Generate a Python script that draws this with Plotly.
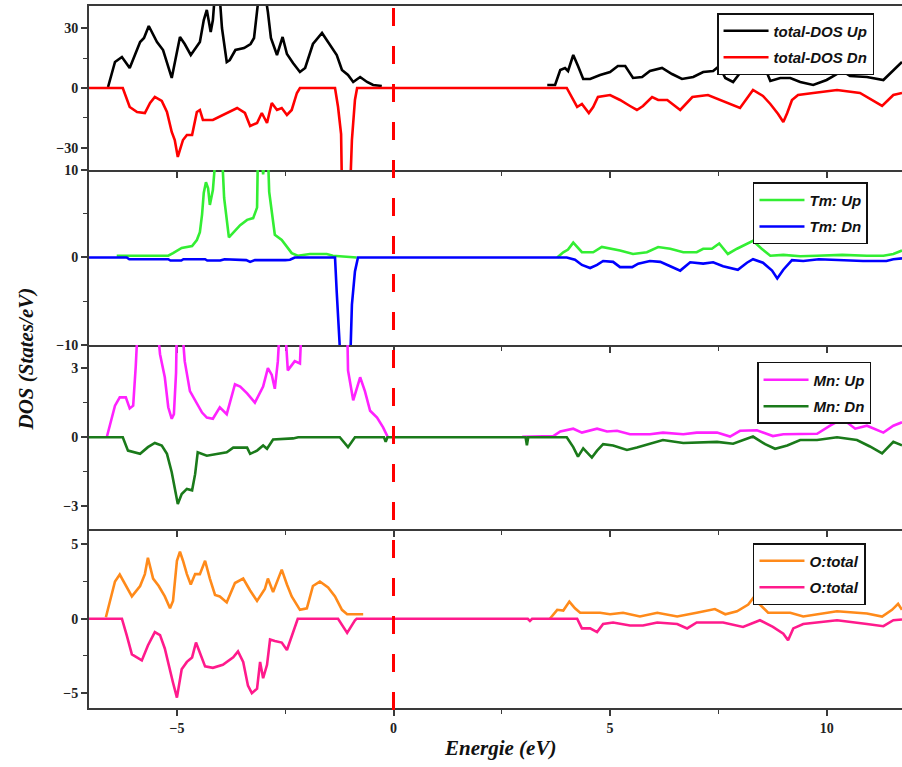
import plotly.graph_objects as go
from plotly.subplots import make_subplots

# ---------------- data (energy eV, DOS states/eV); None = gap ----------------
TOTAL_UP = [(-6.59,0.5),(-6.43,13),(-6.27,15.5),(-6.09,10),(-5.85,23),(-5.76,25),(-5.65,31),(-5.46,23),
            (-5.32,19),(-5.12,5),(-4.93,25.5),(-4.82,22),(-4.68,16.5),(-4.47,23),(-4.38,34),(-4.31,39),
            (-4.22,28),(-4.17,34),(-4.12,48),(-4.02,48),(-3.96,30),(-3.85,13),(-3.78,14),(-3.65,19),
            (-3.45,20),(-3.3,22),(-3.22,25),(-3.15,40),(-3.1,48),(-2.97,48),(-2.9,38),(-2.83,25),
            (-2.69,16.5),(-2.56,25.5),(-2.46,17),(-2.32,12.5),(-2.16,8),(-2.04,10),(-1.86,22),(-1.65,27.5),
            (-1.47,22),(-1.31,16.5),(-1.19,9),(-1.05,6.5),(-0.93,3),(-0.77,5.5),(-0.61,3),(-0.47,1.5),
            (-0.27,1),(None,None),
            (3.55,1.5),(3.73,1.5),(3.85,9),(3.96,10),(4.03,8.5),(4.15,16.5),(4.26,11),(4.38,4.5),(4.54,4.5),
            (4.77,6.5),(5.0,8),(5.18,11),(5.35,11),(5.53,5),(5.74,5.5),(5.92,8.5),(6.2,10),(6.43,7),
            (6.66,4.5),(6.92,5.5),(7.15,8),(7.38,8.5),(7.52,11),(7.66,5),(7.84,3),(8.0,7.5),(8.19,9),
            (8.3,12),(8.5,14),(8.7,3.5),(8.93,5),(9.16,5),(9.39,3),(9.69,1.5),(10.0,4),(10.36,8.5),
            (10.54,6),(10.93,5.5),(11.31,4),(11.54,9),(11.74,13)]
TOTAL_DN = [(-7.03,0),(-6.25,0),(-6.09,-9.5),(-5.92,-12),(-5.74,-12.5),(-5.62,-7.5),(-5.51,-4.5),(-5.35,-6.5),
            (-5.23,-12),(-5.12,-22),(-5.05,-26),(-4.98,-34.5),(-4.86,-26),(-4.77,-23.5),(-4.65,-23.5),
            (-4.54,-12),(-4.47,-11),(-4.4,-16),(-4.17,-16),(-3.94,-13.5),(-3.61,-10),(-3.43,-12.5),
            (-3.31,-19),(-3.15,-17.5),(-3.04,-12.5),(-2.92,-17.5),(-2.81,-7.5),(-2.69,-11),(-2.58,-10),
            (-2.46,-13.5),(-2.35,-11),(-2.23,-2.5),(-2.16,0),(-1.35,0),(-1.28,-9.5),(-1.21,-23),(-1.19,-50),
            (-1.0,-50),(-0.96,-26),(-0.89,-6),(-0.84,0),(4.0,0),(4.12,-5),(4.24,-9.5),(4.35,-8),(4.42,-10),
            (4.51,-12.5),(4.61,-9.5),(4.72,-4.5),(5.0,-3.5),(5.23,-6),(5.46,-9),(5.62,-11),(5.76,-9),
            (5.97,-4.5),(6.11,-6),(6.32,-6),(6.62,-11),(6.9,-4.5),(7.26,-3.5),(7.54,-6),(7.77,-8),(8.0,-10),
            (8.3,-1),(8.53,-4),(8.7,-8),(8.88,-13),(9.0,-17),(9.09,-12.5),(9.2,-6),(9.34,-3.5),(9.69,-2.5),
            (10.24,-1),(10.77,-2.5),(11.07,-6.5),(11.28,-9),(11.54,-3.5),(11.74,-2.5)]

TM_UP = [(-6.39,0.2),(-5.2,0.2),(-5.09,0.5),(-4.89,1.1),(-4.65,1.3),(-4.54,2.0),(-4.47,2.9),(-4.42,4.9),
         (-4.38,7.4),(-4.33,8.6),(-4.28,7.9),(-4.24,6.0),(-4.17,7.7),(-4.1,12),(-3.96,12),(-3.91,6.8),
         (-3.8,2.3),(-3.7,2.8),(-3.54,3.7),(-3.38,4.3),(-3.24,4.5),(-3.15,5.7),(-3.13,12),(-3.05,12),
         (-3.01,9.5),(-2.95,12),(-2.9,12),(-2.87,7.5),(-2.81,5.2),(-2.74,2.6),(-2.58,2.0),(-2.46,1.2),
         (-2.35,0.5),(-2.21,0.2),(-1.93,0.4),(-1.54,0.4),(-1.4,0.2),(-0.85,0.0),(None,None),
         (3.78,0),(3.92,0.6),(4.03,0.9),(4.15,1.7),(4.35,0.6),(4.61,0.6),(4.81,1.2),(5.05,1.0),(5.23,0.8),
         (5.53,0.4),(5.85,0.6),(6.11,1.2),(6.39,1.0),(6.69,0.6),(7.0,0.6),(7.15,1.0),(7.35,1.0),(7.52,1.6),
         (7.72,0.4),(7.93,1.0),(8.12,1.5),(8.3,1.9),(8.5,1.0),(8.7,0.2),(9.0,0.3),(9.39,0.15),(9.77,0.2),
         (10.36,0.3),(10.93,0.2),(11.31,0.2),(11.54,0.4),(11.74,0.8)]
TM_DN = [(-7.03,0),(-6.16,0),(-6.1,-0.2),(-5.2,-0.2),(-5.15,-0.35),(-4.9,-0.35),(-4.85,-0.2),(-4.35,-0.2),
         (-4.3,-0.35),(-4.0,-0.35),(-3.9,-0.2),(-3.4,-0.3),(-3.31,-0.5),(-3.2,-0.3),(-2.5,-0.3),
         (-2.39,-0.25),(-2.28,0),(-1.35,0),(-1.31,-4),(-1.24,-10),(-1.22,-12),(-1.0,-12),(-0.96,-5.4),
         (-0.89,-1.6),(-0.82,0),(4.0,0),(4.19,-0.26),(4.35,-0.85),(4.54,-1.2),(4.7,-0.85),(4.84,-0.4),
         (5.07,-0.5),(5.23,-1.1),(5.51,-1.1),(5.65,-0.7),(5.92,-0.4),(6.16,-0.5),(6.39,-1.0),(6.62,-1.5),
         (6.85,-0.55),(7.15,-0.7),(7.38,-0.55),(7.61,-1.0),(7.95,-1.4),(8.16,-0.6),(8.3,-0.2),(8.53,-0.6),
         (8.74,-1.5),(8.86,-2.4),(9.0,-1.4),(9.2,-0.3),(9.46,-0.4),(9.82,-0.2),(10.84,-0.4),(11.38,-0.4),
         (11.54,-0.2),(11.74,-0.1)]

MN_UP = [(-6.62,0),(-6.5,0.85),(-6.43,1.37),(-6.32,1.73),(-6.18,1.73),(-6.09,1.25),(-6.01,1.37),(-5.95,3.1),
         (-5.9,5),(-5.46,5),(-5.39,3.6),(-5.28,2.6),(-5.2,1.3),(-5.12,0.8),(-5.07,1.0),(-5.02,2.8),(-5.0,5),
         (-4.89,5),(-4.82,3.3),(-4.7,2.0),(-4.54,1.5),(-4.42,1.07),(-4.31,0.85),(-4.17,0.8),(-4.01,1.3),
         (-3.85,1.0),(-3.66,2.3),(-3.54,2.2),(-3.38,1.9),(-3.2,1.5),(-3.01,2.2),(-2.9,3.0),(-2.81,2.7),
         (-2.74,2.1),(-2.67,3.3),(-2.62,5),(-2.51,5),(-2.44,2.9),(-2.28,3.3),(-2.16,3.2),(-2.12,5),
         (-1.07,5),(-1.05,2.9),(-0.93,1.6),(-0.77,2.6),(-0.66,2.0),(-0.54,1.15),(-0.38,0.85),(-0.24,0.43),
         (-0.13,0),(None,None),
         (2.97,0.02),(3.69,0.05),(3.85,0.25),(4.15,0.37),(4.35,0.2),(4.7,0.37),(4.93,0.25),(5.16,0.28),
         (5.46,0.13),(5.92,0.13),(6.22,0.2),(6.69,0.13),(7.0,0.2),(7.47,0.2),(7.77,0.03),(8.0,0.28),
         (8.39,0.3),(8.76,0.05),(9.0,0.13),(9.78,0.15),(10.08,0.5),(10.36,0.8),(10.66,0.37),(10.93,0.5),
         (11.31,0.2),(11.54,0.5),(11.74,0.65)]
MN_DN = [(-7.03,0),(-6.25,0),(-6.13,-0.58),(-5.85,-0.72),(-5.67,-0.43),(-5.51,-0.25),(-5.35,-0.36),
         (-5.23,-0.72),(-5.12,-1.52),(-5.05,-2.17),(-4.98,-2.9),(-4.89,-2.46),(-4.77,-2.24),(-4.65,-2.3),
         (-4.58,-1.6),(-4.52,-0.65),(-4.31,-0.8),(-3.85,-0.65),(-3.7,-0.45),(-3.38,-0.45),(-3.31,-0.72),
         (-3.15,-0.58),(-3.01,-0.36),(-2.92,-0.5),(-2.78,-0.1),(-2.32,-0.05),(-2.2,0),(-1.24,0),
         (-1.05,-0.43),(-0.89,0),(-0.22,0),(-0.18,-0.2),(-0.14,0),(3.05,0),(3.08,-0.35),(3.11,0),(4.0,0),
         (4.15,-0.43),(4.26,-0.84),(4.38,-0.48),(4.58,-0.88),(4.7,-0.58),(4.84,-0.3),(5.07,-0.36),
         (5.39,-0.55),(5.62,-0.45),(5.92,-0.3),(6.22,-0.12),(6.69,-0.25),(7.47,-0.2),(7.84,-0.28),
         (8.3,0.03),(8.58,-0.3),(8.81,-0.5),(9.09,-0.36),(9.39,-0.12),(9.78,-0.12),(10.24,0.0),
         (10.7,-0.12),(11.0,-0.4),(11.28,-0.7),(11.54,-0.2),(11.74,-0.35)]

O_UP = [(-6.64,0.1),(-6.55,1.15),(-6.43,2.5),(-6.32,2.97),(-6.2,2.3),(-6.04,1.5),(-5.85,2.2),(-5.74,3.0),
        (-5.67,4.1),(-5.55,2.7),(-5.42,2.2),(-5.28,1.5),(-5.16,0.7),(-5.09,1.2),(-5.0,3.9),(-4.93,4.5),
        (-4.86,3.9),(-4.77,3.0),(-4.68,2.3),(-4.58,3.0),(-4.47,3.0),(-4.35,3.9),(-4.24,2.7),(-4.12,1.6),
        (-4.01,1.5),(-3.85,1.1),(-3.66,2.4),(-3.47,2.7),(-3.31,1.9),(-3.15,1.2),(-2.97,2.0),(-2.9,2.7),
        (-2.78,1.8),(-2.58,3.3),(-2.46,2.3),(-2.35,1.5),(-2.16,0.6),(-2.0,0.7),(-1.86,2.2),(-1.7,2.5),
        (-1.51,2.1),(-1.35,1.5),(-1.19,0.6),(-1.07,0.3),(-0.7,0.3),(None,None),
        (3.61,0),(3.78,0.6),(3.92,0.55),(4.06,1.15),(4.19,0.7),(4.31,0.4),(4.77,0.4),(5.0,0.3),(5.3,0.4),
        (5.69,0.15),(6.09,0.4),(6.55,0.15),(7.0,0.4),(7.42,0.65),(7.66,0.3),(7.93,0.5),(8.19,0.95),
        (8.32,1.45),(8.46,0.95),(8.65,0.4),(9.16,0.4),(9.46,0.15),(10.24,0.5),(10.93,0.35),(11.28,0.15),
        (11.51,0.6),(11.65,1.0),(11.74,0.6)]
O_DN = [(-7.03,0),(-6.27,0),(-6.16,-1.1),(-6.04,-2.4),(-5.81,-2.8),(-5.67,-1.8),(-5.51,-0.9),(-5.39,-1.1),
        (-5.28,-2.0),(-5.16,-3.6),(-5.09,-4.3),(-5.0,-5.3),(-4.89,-3.4),(-4.77,-2.9),(-4.65,-2.6),
        (-4.56,-1.6),(-4.47,-2.3),(-4.35,-3.2),(-4.17,-3.3),(-3.94,-3.1),(-3.7,-2.6),(-3.59,-2.2),
        (-3.47,-2.9),(-3.36,-4.5),(-3.27,-5.0),(-3.15,-4.7),(-3.08,-2.9),(-3.01,-4.0),(-2.92,-3.1),
        (-2.85,-1.4),(-2.74,-1.5),(-2.58,-1.6),(-2.46,-2.1),(-2.32,-0.9),(-2.21,0),(-1.28,0),
        (-1.07,-0.95),(-0.89,-0.1),(-0.85,0),(3.1,0),(3.15,-0.15),(3.2,0),(4.24,0),(4.35,-0.65),
        (4.54,-0.65),(4.7,-0.9),(4.84,-0.35),(5.07,-0.25),(5.46,-0.45),(5.76,-0.45),(6.09,-0.25),
        (6.55,-0.35),(6.78,-0.65),(7.0,-0.25),(7.61,-0.25),(8.07,-0.55),(8.46,-0.1),(8.76,-0.55),
        (9.0,-1.0),(9.11,-1.45),(9.23,-0.65),(9.46,-0.35),(9.85,-0.25),(10.24,-0.1),(10.93,-0.35),
        (11.31,-0.5),(11.54,-0.1),(11.74,-0.05)]

SERIES = [
    # (data, name, color, panel)
    (TOTAL_UP, "total-DOS Up", "#000000", 1),
    (TOTAL_DN, "total-DOS Dn", "#ff0000", 1),
    (TM_UP, "Tm: Up", "#33ee33", 2),
    (TM_DN, "Tm: Dn", "#0000ff", 2),
    (MN_UP, "Mn: Up", "#ff22ff", 3),
    (MN_DN, "Mn: Dn", "#1a7a1a", 3),
    (O_UP, "O:total", "#ff8a1a", 4),
    (O_DN, "O:total", "#ff1a8c", 4),
]
Y_RANGES = [(-41, 41), (-10, 10), (-4, 4), (-6, 6)]
Y_DTICK = [30, 10, 3, 5]
X_RANGE = (-7.03, 11.74)
X_TICKS = [-5, 0, 5, 10]

# ---------------- figure ----------------
fig = make_subplots(rows=4, cols=1, shared_xaxes=True, vertical_spacing=0)

for i, (data, name, color, panel) in enumerate(SERIES):
    xs = [p[0] for p in data]
    ys = [p[1] for p in data]
    lg = "legend" if panel == 1 else f"legend{panel}"
    fig.add_trace(go.Scatter(x=xs, y=ys, mode="lines", name=name,
                             line=dict(color=color, width=2.6),
                             legend=lg, legendgroup=f"g{i}", connectgaps=False),
                  row=panel, col=1)

# panel domains (paper fractions)
domains = [[0.7664, 1.0], [0.5171, 0.7664], [0.2543, 0.5171], [0.0, 0.2543]]
axcol = "#3a3a3a"
tickfont = dict(family="Liberation Serif", size=14, color="#222222", weight="bold")
for k in range(4):
    sfx = "" if k == 0 else str(k + 1)
    fig.layout["yaxis" + sfx].update(
        domain=domains[k], range=list(Y_RANGES[k]), dtick=Y_DTICK[k], tick0=0,
        showline=True, linecolor=axcol, linewidth=1.8, mirror=False,
        ticks="outside", ticklen=6, tickwidth=1.6, tickcolor=axcol,
        minor=dict(dtick=Y_DTICK[k] / 2, tick0=0, ticks="outside", ticklen=4, tickwidth=1.4, tickcolor=axcol),
        showgrid=False, zeroline=False, tickfont=tickfont, fixedrange=True)
    fig.layout["xaxis" + sfx].update(
        range=list(X_RANGE), tickvals=X_TICKS, showline=True, linecolor=axcol, linewidth=1.8,
        mirror=(k == 0), ticks="outside", ticklen=6, tickwidth=1.6, tickcolor=axcol,
        minor=dict(dtick=2.5, tick0=0, ticks="outside", ticklen=4, tickwidth=1.4, tickcolor=axcol),
        showgrid=False, zeroline=False, showticklabels=(k == 3), tickfont=tickfont)

legfont = dict(family="Liberation Sans", size=15, color="#111111", weight="bold", style="italic")
leg_common = dict(bgcolor="white", bordercolor="#111111", borderwidth=1.5, font=legfont,
                  xanchor="left", yanchor="top", tracegroupgap=4, itemwidth=45)
fig.update_layout(
    legend=dict(x=0.7725, y=0.990, **leg_common),
    legend2=dict(x=0.8167, y=0.749, **leg_common),
    legend3=dict(x=0.8217, y=0.4929, **leg_common),
    legend4=dict(x=0.8167, y=0.235, **leg_common),
)

# Fermi level dashed line
fig.add_shape(type="line", xref="x", yref="paper", x0=0, x1=0, y0=0.997, y1=-0.006,
              line=dict(color="#ff0000", width=3, dash="18px,20px"))

title_font = dict(family="Liberation Serif", size=21, color="#111111", weight="bold", style="italic")
fig.add_annotation(text="Energie (eV)", xref="paper", yref="paper", x=0.5055, y=-0.057,
                   xanchor="center", yanchor="middle", showarrow=False, font=title_font)
fig.add_annotation(text="DOS (States/eV)", xref="paper", yref="paper", x=-0.077, y=0.497,
                   xanchor="center", yanchor="middle", showarrow=False, textangle=-90, font=title_font)

fig.update_layout(width=902, height=767, margin=dict(l=89, r=0, t=6, b=59),
                  paper_bgcolor="white", plot_bgcolor="white", showlegend=True)

fig.write_html("out.html")
